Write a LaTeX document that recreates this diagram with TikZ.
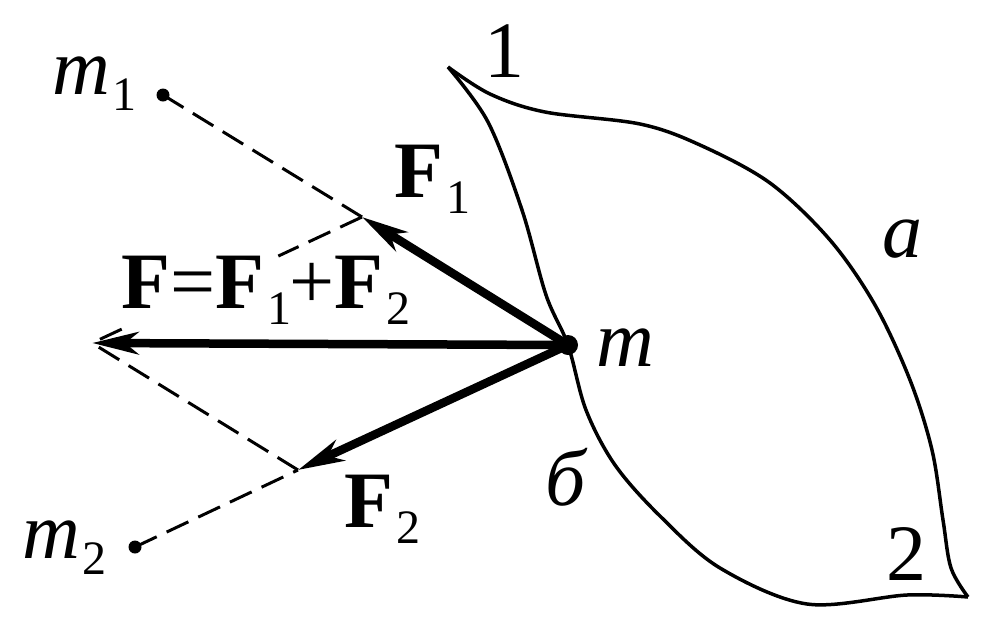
\documentclass[tikz,border=0pt]{standalone}
\usepackage{fontspec}
\setmainfont{Liberation Serif}
\usetikzlibrary{arrows.meta,calc}
\newcommand\lowsub[1]{\hspace{3pt}\raisebox{-16pt}{\fontsize{48}{48}\selectfont #1}}
\tikzset{
  force/.style={line width=8.5pt, -{Stealth[length=46pt,width=22pt,inset=13pt]}},
  helper/.style={line width=3pt, dash pattern=on 24pt off 11pt},
  contour/.style={line width=3.5pt, line join=round},
  lbl/.style={inner sep=0pt, anchor=base west, font=\fontsize{80}{80}\selectfont}
}
\begin{document}
\begin{tikzpicture}[x=1pt,y=-1pt]
\useasboundingbox (0,0) rectangle (983,638);
% points
\coordinate (m) at (568,345);
\coordinate (m1) at (163,95);
\coordinate (m2) at (135,547);
\coordinate (F1) at (362,217);
\coordinate (F2) at (298,470);
\coordinate (F) at (92,343);
% leaf contour
\draw[contour] plot[smooth, tension=0.55] coordinates {(448,67) (490,94) (545,112) (640,124) (700,145) (770,183) (830,240) (875,305) (910,380) (932,450) (943,520) (951,568) (968,597)};
\draw[contour] plot[smooth, tension=0.55] coordinates {(448,67) (488,122) (522,210) (546,295) (568,345) (586,410) (615,465) (660,516) (720,568) (807,604) (907,595) (968,597)};
% dashed construction lines
\draw[helper] (m1) -- (F1);
\draw[helper] (m2) -- (F2);
\draw[helper] (F2) -- (F);
\draw[helper] (F1) -- ($(F1)!0.31!(F)$);
\draw[helper] ($(F1)!0.89!(F)$) -- (F);
% force vectors
\draw[force] (m) -- (F1);
\draw[force] (m) -- (F2);
\draw[force] (m) -- (F);
% dots
\fill (m) circle (10);
\fill (m1) circle (6.5);
\fill (m2) circle (6.5);
% labels
\node[lbl] (lm1) at (52,94) {\textit{m}\lowsub{1}};
\node[lbl] (lm2) at (22,558) {\textit{m}\lowsub{2}};
\node[lbl] (lm) at (596,366) {\textit{m}};
\node[lbl] (lF1) at (394,197) {\textbf{F}\lowsub{1}};
\node[lbl] (lF2) at (344,527) {\textbf{F}\lowsub{2}};
\node[lbl] (lF) at (121,308) {\textbf{F}=\textbf{F}\lowsub{1}\hspace{-2pt}+\textbf{F}\lowsub{2}};
\node[lbl] (l1) at (484,77) {1};
\node[lbl] (l2) at (886,580) {2};
\node[lbl] (la) at (882,257) {\textit{a}};
\node[lbl] (lb) at (545,505) {\textit{б}};
\end{tikzpicture}
\end{document}
